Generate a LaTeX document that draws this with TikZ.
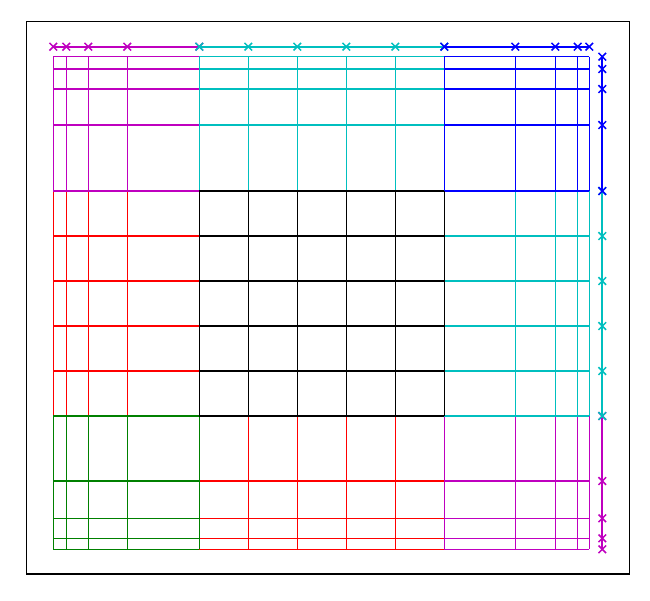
\documentclass[tikz,border=0pt]{standalone}
\definecolor{mmag}{rgb}{0.75,0,0.75}
\definecolor{mcyan}{rgb}{0,0.75,0.75}
\definecolor{mgreen}{rgb}{0,0.5,0}
\definecolor{mblue}{rgb}{0,0,1}
\definecolor{mred}{rgb}{1,0,0}
\tikzset{
  gridline/.style={line width=1.1pt},
  axisline/.style={line width=2pt},
  xmk/.style={line width=1.5pt},
  frameline/.style={line width=1.2pt,draw=black}
}
\newcommand\mymesh[7]{%
  \foreach \xx in {#2} {\draw[#1,gridline] (\xx,#6) -- (\xx,#7);}
  \foreach \yy in {#3} {\draw[#1,gridline] (#4,\yy) -- (#5,\yy);}
}
\newcommand\hmarks[3]{% color, xlist, y
  \foreach \xx in {#2} {\draw[#1,xmk] (\xx-3.8,#3-3.8) -- (\xx+3.8,#3+3.8) (\xx-3.8,#3+3.8) -- (\xx+3.8,#3-3.8);}
}
\newcommand\vmarks[3]{% color, ylist, x
  \foreach \yy in {#2} {\draw[#1,xmk] (#3-3.8,\yy-3.8) -- (#3+3.8,\yy+3.8) (#3-3.8,\yy+3.8) -- (#3+3.8,\yy-3.8);}
}
\begin{document}
\begin{tikzpicture}[x=1pt,y=-1pt]
\fill[white] (0,0) rectangle (650,600);
\useasboundingbox (0,0) rectangle (650,600);
% frame
\draw[frameline] (26.3,21.3) rectangle (629.3,574);
% meshes
\mymesh{mred}{53.3,66.3,88.3,127.3,199.3}{191,236,281,326,371,416}{53.3}{199.3}{191}{416}
\mymesh{mred}{199.3,248.3,297.3,346.3,395.3,444.3}{416,481,518.3,538.3,549.3}{199.3}{444.3}{416}{549.3}
\mymesh{mgreen}{53.3,66.3,88.3,127.3,199.3}{416,481,518.3,538.3,549.3}{53.3}{199.3}{416}{549.3}
\mymesh{mmag}{53.3,66.3,88.3,127.3,199.3}{56.7,69,89,125,191}{53.3}{199.3}{56.7}{191}
\mymesh{mmag}{444.3,515.3,555.3,577.7,589.3}{416,481,518.3,538.3,549.3}{444.3}{589.3}{416}{549.3}
\mymesh{mcyan}{199.3,248.3,297.3,346.3,395.3,444.3}{56.7,69,89,125,191}{199.3}{444.3}{56.7}{191}
\mymesh{mcyan}{444.3,515.3,555.3,577.7,589.3}{191,236,281,326,371,416}{444.3}{589.3}{191}{416}
\mymesh{mblue}{444.3,515.3,555.3,577.7,589.3}{56.7,69,89,125,191}{444.3}{589.3}{56.7}{191}
\mymesh{black}{199.3,248.3,297.3,346.3,395.3,444.3}{191,236,281,326,371,416}{199.3}{444.3}{191}{416}
% top axis line
\draw[mmag,axisline] (53.3,46.7) -- (199.3,46.7);
\hmarks{mmag}{53.3,66.3,88.3,127.3,199.3}{46.7}
\draw[mcyan,axisline] (199.3,46.7) -- (444.3,46.7);
\hmarks{mcyan}{199.3,248.3,297.3,346.3,395.3,444.3}{46.7}
\draw[mblue,axisline] (444.3,46.7) -- (589.3,46.7);
\hmarks{mblue}{444.3,515.3,555.3,577.7,589.3}{46.7}
% right axis line
\draw[mmag,axisline] (602.3,416) -- (602.3,549.3);
\vmarks{mmag}{416,481,518.3,538.3,549.3}{602.3}
\draw[mcyan,axisline] (602.3,191) -- (602.3,416);
\vmarks{mcyan}{191,236,281,326,371,416}{602.3}
\draw[mblue,axisline] (602.3,56.7) -- (602.3,191);
\vmarks{mblue}{56.7,69,89,125,191}{602.3}
\end{tikzpicture}
\end{document}
